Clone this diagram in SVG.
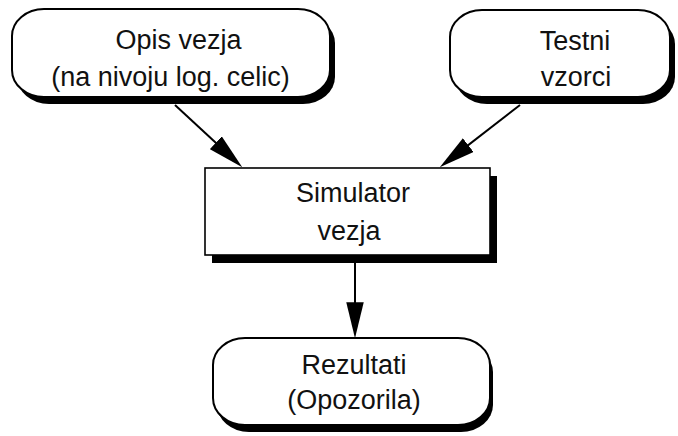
<svg xmlns="http://www.w3.org/2000/svg" width="678" height="436" viewBox="0 0 678 436">
<style>
.bg{fill:#ffffff}
.shadow{fill:#000000}
.box{fill:#ffffff;stroke:#000000;stroke-width:2}
.rect{fill:#ffffff;stroke:#000000;stroke-width:1.6}
.lbl{font-family:"Liberation Sans",Arial,sans-serif;font-size:27px;fill:#111111;text-anchor:middle}
.edge{stroke:#000000;stroke-width:2;fill:none}
</style>
<defs>
<marker id="arrow" markerUnits="userSpaceOnUse" markerWidth="36" markerHeight="18" viewBox="0 0 35 17" refX="25" refY="8.5" orient="auto">
<path d="M0,0 L35,8.5 L0,17 z" fill="#000000"/>
</marker>
</defs>
<rect class="bg" x="0" y="0" width="678" height="436"/>
<g id="connectors">
<line class="edge" x1="175" y1="105" x2="234.7" y2="160.2" marker-end="url(#arrow)"/>
<line class="edge" x1="520" y1="105" x2="447.9" y2="160.9" marker-end="url(#arrow)"/>
<line class="edge" x1="355" y1="262" x2="355" y2="328" stroke-width="2.6" marker-end="url(#arrow)"/>
</g>
<g id="opis">
<rect class="shadow" x="17" y="16" width="318" height="88" rx="32" ry="27"/>
<rect class="box" x="12" y="9" width="318" height="88" rx="32" ry="27"/>
<text class="lbl" x="178.5" y="49">Opis vezja</text>
<text class="lbl" x="170.5" y="86">(na nivoju log. celic)</text>
</g>
<g id="testni">
<rect class="shadow" x="455" y="17" width="220" height="87" rx="32" ry="27"/>
<rect class="box" x="450" y="10" width="220" height="87" rx="32" ry="27"/>
<text class="lbl" x="575" y="50">Testni</text>
<text class="lbl" x="576" y="86">vzorci</text>
</g>
<g id="simulator">
<rect class="shadow" x="212" y="176" width="285" height="87"/>
<rect class="rect" x="205" y="168" width="285" height="87"/>
<text class="lbl" x="353" y="202">Simulator</text>
<text class="lbl" x="349" y="240">vezja</text>
</g>
<g id="rezultati">
<rect class="shadow" x="217" y="345" width="276" height="87" rx="32" ry="27"/>
<rect class="box" x="213" y="338" width="277" height="87" rx="32" ry="27"/>
<text class="lbl" x="354" y="374">Rezultati</text>
<text class="lbl" x="354" y="409">(Opozorila)</text>
</g>
</svg>
